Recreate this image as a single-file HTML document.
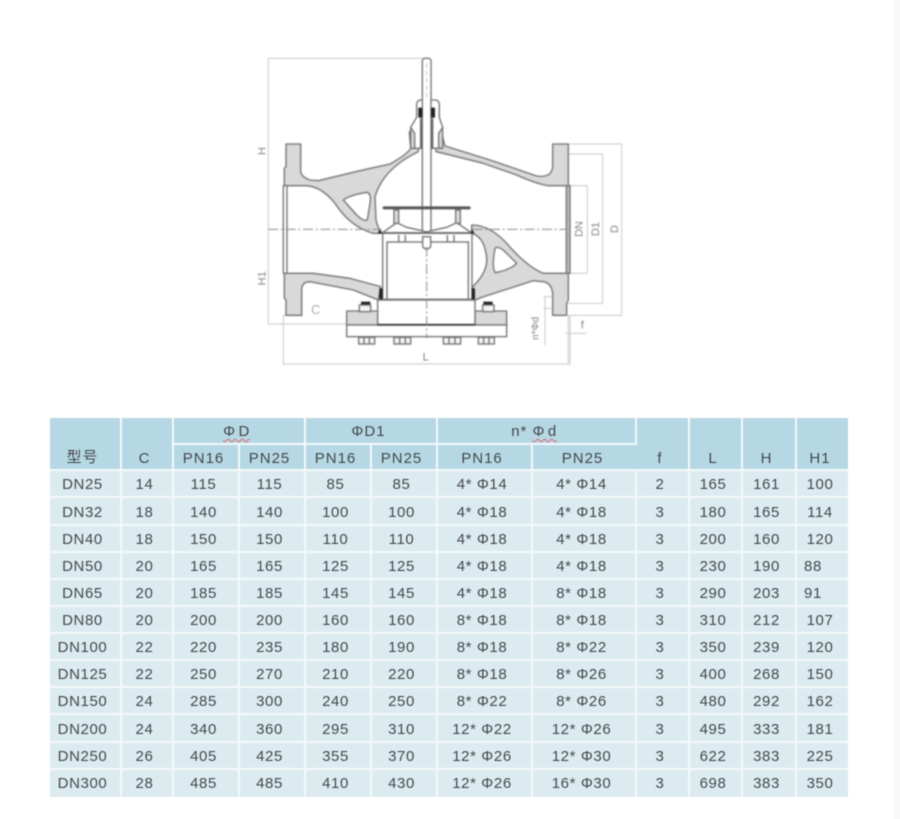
<!DOCTYPE html>
<html><head><meta charset="utf-8">
<style>
html,body{margin:0;padding:0;background:#fff;width:900px;height:819px;overflow:hidden}
#band{position:absolute;left:894px;top:0;width:6px;height:819px;background:#f8f8f8}
svg{position:absolute;left:0;top:0;filter:blur(.7px)}
table{position:absolute;left:50px;top:418px;border-collapse:separate;border-spacing:0;table-layout:fixed;width:798px;font-family:"Liberation Sans","Noto Sans CJK SC",sans-serif;font-size:15px;letter-spacing:.6px;color:#43494c;filter:blur(.4px)}
td{padding:2px 5px 0 0;text-align:center;background:#dcebf0;border-right:2px solid #f4f9fa;border-bottom:2px solid #f4f9fa;box-sizing:border-box;white-space:nowrap}
td:last-child{border-right:0}
tr:last-child td{border-bottom:0;padding-top:0}
tr.h td{background:#b6d8e5;vertical-align:middle;letter-spacing:1px}
tr.h td.b{vertical-align:bottom;padding-bottom:2px}
td.l{text-align:left;padding-left:7px}
.w{text-decoration:underline wavy #d9686a 1px;text-underline-offset:2px;word-spacing:-2px;letter-spacing:.6px}
</style></head><body>
<div id="band"></div>
<svg width="900" height="400" viewBox="0 0 900 400">
<g transform="translate(250 40) scale(.33333)">
<g fill="none" stroke="#c8c8c8" stroke-width="3">
<path d="M55 55H520M55 55V852M55 852H290M100 826V975M955 826V975M100 972H955"/>
<path d="M155 826H100M955 312H1115M955 342H1058M955 437H1012M955 700H1012M955 790H1058M955 826H1115M1115 312V826M1058 342V790M1012 437V700"/>
<path d="M880 770H905M880 805H905M885 770V915M945 880H1010M960 826V975"/>
<path d="M155 790V830"/>
</g>
<g fill="#d9d9d9" stroke="#707070" stroke-width="4" stroke-linejoin="round">
<!-- upper left body -->
<path d="M108 312H152V395Q155 412 180 420L205 422L330 392L420 372Q470 345 482 325L478 275L503 278L505 335Q400 385 375 470L378 540Q385 570 398 580H370Q300 560 255 490Q215 440 170 437H103V385L108 380Z"/>
<path d="M280 480Q300 465 350 457Q365 460 360 490L352 540Q340 545 320 525Z" fill="#fff"/>
<!-- upper right body -->
<path d="M908 312H955V437H895Q860 432 800 405L700 370L580 340L558 335V300L575 280L585 318L720 360L860 408Q905 415 908 380Z"/>
<!-- lower left body -->
<path d="M103 700H190L300 715L392 740L385 780L310 750L180 725Q155 725 155 750V826H108V780L103 775Z"/>
<!-- lower right body -->
<path d="M665 555Q720 555 770 610Q830 680 880 700H955V780L950 790V826H908V760Q905 730 880 725L850 722L695 772L672 782L668 740Q720 690 708 640Q700 590 665 580Z"/>
<path d="M735 625Q745 615 770 640L800 670Q780 690 735 698Q725 680 735 625Z" fill="#fff"/>
<!-- bottom flange -->
<path d="M290 813H383V855H290Z"/>
<path d="M675 813H770V855H675Z"/>
</g>
<g fill="#fff" stroke="#707070" stroke-width="4">
<rect x="290" y="855" width="480" height="35"/>
<rect x="383" y="780" width="292" height="75"/>
<!-- flange faces -->
<rect x="100" y="437" width="11" height="263"/>
<rect x="949" y="437" width="11" height="263" fill="#bdbdbd"/>
<!-- cylinder -->
<rect x="398" y="580" width="268" height="198"/>
<rect x="411" y="606" width="244" height="172"/>
<!-- cage -->
<path d="M398 578L440 548L470 562L530 575L590 562L620 548L664 578Z"/>
<rect x="432" y="510" width="14" height="40" fill="#ddd"/>
<rect x="617" y="510" width="14" height="40" fill="#ddd"/>
<path d="M446 585V605M466 585V605M592 585V605M612 585V605" fill="none"/>
<!-- gland -->
<path d="M482 262L497 250L503 280V325H482Z M578 262L563 250L557 280V325H578Z" fill="#d9d9d9"/>
<path d="M500 192Q502 180 512 180H556Q566 180 568 192V232L578 262L566 280V325H494V280L482 262L500 232Z" fill="#fff"/>
<!-- stem -->
<rect x="517" y="55" width="26" height="520" rx="8"/>
<path d="M518 590H542V620Q530 635 518 620Z"/>
</g>
<rect x="398" y="499" width="264" height="9" rx="4" fill="#555"/>
<path d="M383 854H675" stroke="#333" stroke-width="5"/>
<g fill="#222">
<rect x="505" y="203" width="12" height="30"/><rect x="543" y="203" width="12" height="30"/>
<rect x="510" y="235" width="6" height="90" fill="#666"/><rect x="544" y="235" width="6" height="90" fill="#666"/>
<rect x="388" y="745" width="10" height="33"/><rect x="665" y="745" width="10" height="33"/>
<path d="M388 568l8 12h-12zM666 568l8 12h-12z"/>
<rect x="333" y="785" width="28" height="9"/><rect x="700" y="785" width="28" height="9"/>
</g>
<!-- bolts -->
<g fill="#f4f4f4" stroke="#707070" stroke-width="4">
<rect x="328" y="795" width="34" height="20"/><rect x="698" y="795" width="34" height="20"/>
<rect x="326" y="892" width="48" height="20"/><rect x="432" y="892" width="50" height="20"/>
<rect x="580" y="892" width="52" height="20"/><rect x="685" y="892" width="48" height="20"/>
<path d="M342 892V912M358 892V912M449 892V912M466 892V912M597 892V912M615 892V912M701 892V912M717 892V912" fill="none"/>
</g>
<!-- centre lines -->
<g fill="none" stroke="#888" stroke-width="3" stroke-dasharray="30 8 6 8">
<path d="M55 568H395M668 568H950"/>
<path d="M530 620V895"/>
</g>
<path d="M530 70V180" stroke="#aaa" stroke-width="2" stroke-dasharray="14 8"/>
<!-- labels -->
<g font-family="'Liberation Sans',sans-serif" font-size="33" fill="#808080" text-anchor="middle">
<text x="197" y="822" font-size="38" fill="#aaa">C</text>
<text x="527" y="962">L</text>
<text x="997" y="866">f</text>
<text transform="translate(46 333) rotate(-90)">H</text>
<text transform="translate(46 715) rotate(-90)">H1</text>
<text transform="translate(997 567) rotate(-90)">DN</text>
<text transform="translate(1047 567) rotate(-90)">D1</text>
<text transform="translate(1104 567) rotate(-90)">D</text>
<text transform="translate(866 865) rotate(-90)" font-size="30">n*Φd</text>
</g>
</g>
</svg>
<table>
<colgroup><col style="width:72px"><col style="width:52px"><col style="width:66px"><col style="width:66px"><col style="width:66px"><col style="width:66px"><col style="width:95px"><col style="width:104px"><col style="width:53px"><col style="width:53px"><col style="width:54px"><col style="width:51px"></colgroup>
<tr class="h" style="height:27px"><td rowspan="2" class="b">型号</td><td rowspan="2" class="b">C</td><td colspan="2"><span class="w">Φ D</span></td><td colspan="2">ΦD1</td><td colspan="2">n* <span class="w">Φ d</span></td><td rowspan="2" class="b">f</td><td rowspan="2" class="b">L</td><td rowspan="2" class="b">H</td><td rowspan="2" class="b">H1</td></tr>
<tr class="h" style="height:26px"><td>PN16</td><td>PN25</td><td>PN16</td><td>PN25</td><td>PN16</td><td>PN25</td></tr>
<tr style="height:27px"><td>DN25</td><td>14</td><td>115</td><td>115</td><td>85</td><td>85</td><td>4* Φ14</td><td>4* Φ14</td><td>2</td><td>165</td><td>161</td><td>100</td></tr>
<tr style="height:28px"><td>DN32</td><td>18</td><td>140</td><td>140</td><td>100</td><td>100</td><td>4* Φ18</td><td>4* Φ18</td><td>3</td><td>180</td><td>165</td><td>114</td></tr>
<tr style="height:27px"><td>DN40</td><td>18</td><td>150</td><td>150</td><td>110</td><td>110</td><td>4* Φ18</td><td>4* Φ18</td><td>3</td><td>200</td><td>160</td><td>120</td></tr>
<tr style="height:27px"><td>DN50</td><td>20</td><td>165</td><td>165</td><td>125</td><td>125</td><td>4* Φ18</td><td>4* Φ18</td><td>3</td><td>230</td><td>190</td><td class="l">88</td></tr>
<tr style="height:27px"><td>DN65</td><td>20</td><td>185</td><td>185</td><td>145</td><td>145</td><td>4* Φ18</td><td>8* Φ18</td><td>3</td><td>290</td><td>203</td><td class="l">91</td></tr>
<tr style="height:27px"><td>DN80</td><td>20</td><td>200</td><td>200</td><td>160</td><td>160</td><td>8* Φ18</td><td>8* Φ18</td><td>3</td><td>310</td><td>212</td><td>107</td></tr>
<tr style="height:27px"><td>DN100</td><td>22</td><td>220</td><td>235</td><td>180</td><td>190</td><td>8* Φ18</td><td>8* Φ22</td><td>3</td><td>350</td><td>239</td><td>120</td></tr>
<tr style="height:27px"><td>DN125</td><td>22</td><td>250</td><td>270</td><td>210</td><td>220</td><td>8* Φ18</td><td>8* Φ26</td><td>3</td><td>400</td><td>268</td><td>150</td></tr>
<tr style="height:27px"><td>DN150</td><td>24</td><td>285</td><td>300</td><td>240</td><td>250</td><td>8* Φ22</td><td>8* Φ26</td><td>3</td><td>480</td><td>292</td><td>162</td></tr>
<tr style="height:28px"><td>DN200</td><td>24</td><td>340</td><td>360</td><td>295</td><td>310</td><td>12* Φ22</td><td>12* Φ26</td><td>3</td><td>495</td><td>333</td><td>181</td></tr>
<tr style="height:27px"><td>DN250</td><td>26</td><td>405</td><td>425</td><td>355</td><td>370</td><td>12* Φ26</td><td>12* Φ30</td><td>3</td><td>622</td><td>383</td><td>225</td></tr>
<tr style="height:27px"><td>DN300</td><td>28</td><td>485</td><td>485</td><td>410</td><td>430</td><td>12* Φ26</td><td>16* Φ30</td><td>3</td><td>698</td><td>383</td><td>350</td></tr>
</table>
</body></html>
